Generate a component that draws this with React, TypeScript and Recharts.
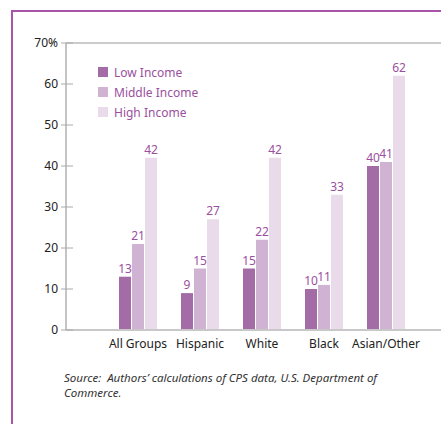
import React from 'react';
import { BarChart, Bar, XAxis, YAxis, ReferenceLine, LabelList } from 'recharts';

const groups = ['All Groups', 'Hispanic', 'White', 'Black', 'Asian/Other'];
const lowIncome = [13, 9, 15, 10, 40];
const middleIncome = [21, 15, 22, 11, 41];
const highIncome = [42, 27, 42, 33, 62];
const yTicks = [0, 10, 20, 30, 40, 50, 60, 70];

const series = [
  { key: 'low', name: 'Low Income', color: '#a36ca7' },
  { key: 'middle', name: 'Middle Income', color: '#d0b2d3' },
  { key: 'high', name: 'High Income', color: '#e9dbea' },
];

const data = groups.map((g, i) => ({
  group: g,
  low: lowIncome[i],
  middle: middleIncome[i],
  high: highIncome[i],
}));

const FONT = '"Noto Sans", "Open Sans", sans-serif';
const PURPLE = '#9b4f9e';

const YTick: React.FC<any> = ({ x, y, payload }) => (
  <g>
    <line x1={x + 3} x2={x + 15} y1={y} y2={y} stroke="#aaa" strokeWidth={1} />
    <text x={x} y={y} dy={4} textAnchor="end" fontSize={12} fill="#222" fontFamily={FONT}>
      {payload.value === 70 ? '70%' : payload.value}
    </text>
  </g>
);

const App: React.FC = () => {
  return (
    <div style={{ position: 'absolute', left: 0, top: 0, width: 441, height: 424, background: '#fff', fontFamily: FONT, overflow: 'hidden' }}>
      <div style={{ position: 'absolute', left: 11, top: 10, width: 430, height: 1.5, background: '#a855a8' }} />
      <div style={{ position: 'absolute', left: 11, top: 10, width: 1.5, height: 414, background: '#a855a8' }} />
      <BarChart
        width={441}
        height={424}
        data={data}
        margin={{ top: 43, right: 0, left: 0, bottom: 0 }}
        barGap={1}
        barSize={12}
        accessibilityLayer={false}
        style={{ outline: 'none' }}
      >
        <ReferenceLine y={70} stroke="#cccccc" strokeWidth={2} />
        <XAxis
          dataKey="group"
          height={94}
          padding={{ left: 41, right: 24 }}
          tickLine={false}
          tickSize={0}
          tickMargin={9}
          axisLine={{ stroke: '#c8c8c8', strokeWidth: 2 }}
          tick={{ fontSize: 12, fill: '#222', fontFamily: FONT }}
        />
        <YAxis
          width={66}
          domain={[0, 70]}
          ticks={yTicks}
          interval={0}
          tickLine={false}
          tickSize={0}
          tickMargin={8}
          axisLine={{ stroke: '#b0b0b0', strokeWidth: 1.5 }}
          tick={<YTick />}
        />
        {series.map((s) => (
          <Bar key={s.key} dataKey={s.key} name={s.name} fill={s.color} isAnimationActive={false}>
            <LabelList dataKey={s.key} position="top" offset={4} fill={PURPLE} fontSize={12} fontFamily={FONT} />
          </Bar>
        ))}
      </BarChart>
      <div style={{ position: 'absolute', left: 98, top: 62 }}>
        {series.map((s) => (
          <div key={s.key} style={{ display: 'flex', alignItems: 'center', height: 20 }}>
            <div style={{ width: 10, height: 10, background: s.color, marginRight: 6 }} />
            <span style={{ fontSize: 12, color: PURPLE }}>{s.name}</span>
          </div>
        ))}
      </div>
      <div style={{ position: 'absolute', left: 64, top: 370, fontSize: 11.5, lineHeight: '15px', fontStyle: 'italic', color: '#333' }}>
        Source:&nbsp; Authors’ calculations of CPS data, U.S. Department of
        <br />
        Commerce.
      </div>
    </div>
  );
};

export default App;
